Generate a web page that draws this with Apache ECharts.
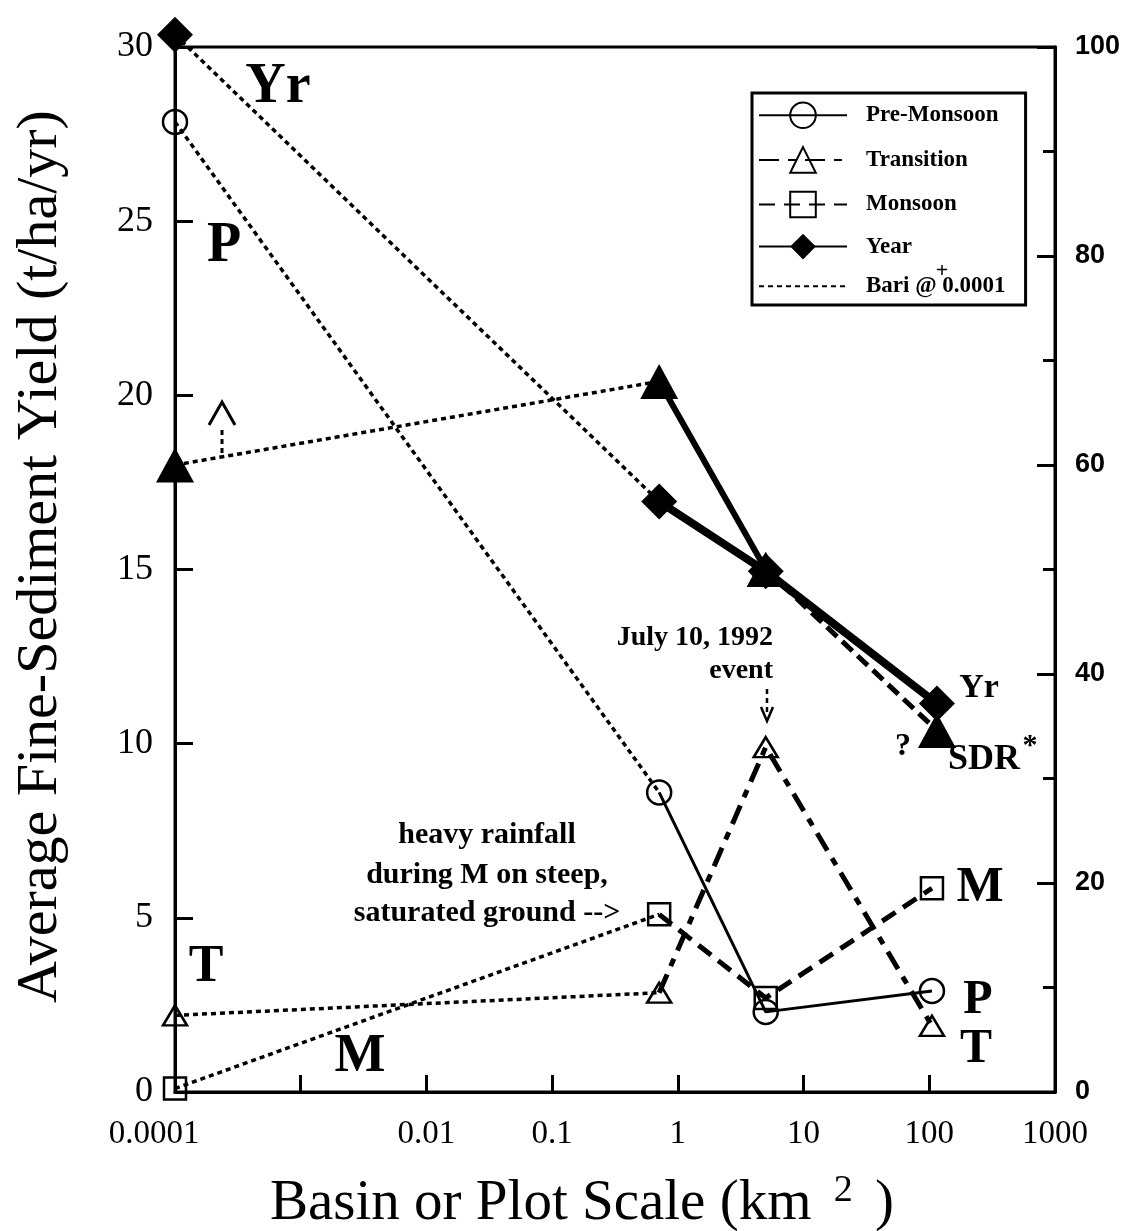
<!DOCTYPE html>
<html>
<head>
<meta charset="utf-8">
<script src="https://cdn.jsdelivr.net/npm/echarts@6/dist/echarts.min.js"></script>
<style>
  html, body { margin: 0; padding: 0; background: #fff; }
  #chart { width: 1138px; height: 1231px; }
</style>
</head>
<body>
<div id="chart"></div>
<script>
// Basin / plot areas (km²) for the seasonal series and for the annual / SDR series
const seasonScale = [0.0001, 0.71, 5, 105];
const annualScale = [0.0001, 0.71, 5, 115];

// Average fine-sediment yield (t/ha/yr)
const preMonsoon = [27.85, 8.6, 2.3, 2.9];
const transition = [2.2, 2.85, 9.9, 1.9];
const monsoon = [0.1, 5.1, 2.7, 5.85];
const yearTotal = [30.35, 16.95, 14.95, 11.15];

// Sediment delivery ratio (%), right-hand axis
const sdrPct = [60, 68, 50, 34.6];

// Tick labels for the decades 1e-4 … 1e3 (1e-3 left unlabelled)
const xTickLabels = ['0.0001', '', '0.01', '0.1', '1', '10', '100', '1000'];

const SERIF = "'Liberation Serif', 'Times New Roman', Times, serif";
const SANS = "'Liberation Sans', Arial, Helvetica, sans-serif";
const BARI = 'Bari @ 0.0001';
const dotted = { type: [5, 4], width: 3.5, color: '#000', cap: 'butt' };

function pairs(xs, ys, from, to) {
  const out = [];
  for (let i = from; i <= to; i++) out.push([xs[i], ys[i]]);
  return out;
}

const hollow = { color: 'none', borderColor: '#000', borderWidth: 2.5 };
const solid = { color: '#000' };

const marks = {
  pre: { symbol: 'circle', symbolSize: 24, itemStyle: hollow },
  tra: { symbol: 'triangle', symbolSize: [24, 20], itemStyle: hollow },
  mon: { symbol: 'rect', symbolSize: 22, itemStyle: hollow },
  yr: { symbol: 'diamond', symbolSize: 36, itemStyle: solid },
  sdr: { symbol: 'triangle', symbolSize: [38, 35], itemStyle: solid }
};

// Dotted link from the Bari plot value to the first basin value
function bariLink(xs, ys, mark, yAxisIndex) {
  return {
    type: 'line', name: BARI, yAxisIndex: yAxisIndex || 0, clip: false, z: 2,
    symbol: mark.symbol, symbolSize: mark.symbolSize, itemStyle: mark.itemStyle,
    lineStyle: dotted,
    data: [
      { value: [xs[0], ys[0]] },
      { value: [xs[1], ys[1]], symbol: 'none' }
    ]
  };
}

const series = [
  { type: 'line', name: BARI, data: [], symbol: 'none', lineStyle: dotted },
  bariLink(annualScale, yearTotal, marks.yr),
  bariLink(seasonScale, preMonsoon, marks.pre),
  bariLink(annualScale, sdrPct, marks.sdr, 1),
  bariLink(seasonScale, transition, marks.tra),
  bariLink(seasonScale, monsoon, marks.mon),
  {
    type: 'line', name: 'SDR*', yAxisIndex: 1, z: 3, clip: false,
    symbol: marks.sdr.symbol, symbolSize: marks.sdr.symbolSize, itemStyle: solid,
    lineStyle: { color: '#000', width: 6 },
    data: pairs(annualScale, sdrPct, 1, 2)
  },
  {
    type: 'line', name: 'SDR*', yAxisIndex: 1, z: 3, clip: false,
    symbol: marks.sdr.symbol, symbolSize: marks.sdr.symbolSize, itemStyle: solid,
    lineStyle: { color: '#000', width: 5, type: [14, 7] },
    data: pairs(annualScale, sdrPct, 2, 3)
  },
  {
    type: 'line', name: 'Pre-Monsoon', z: 4, clip: false,
    symbol: marks.pre.symbol, symbolSize: marks.pre.symbolSize, itemStyle: hollow,
    lineStyle: { color: '#000', width: 3 },
    data: pairs(seasonScale, preMonsoon, 1, 3)
  },
  {
    type: 'line', name: 'Transition', z: 4, clip: false,
    symbol: marks.tra.symbol, symbolSize: marks.tra.symbolSize, itemStyle: hollow,
    lineStyle: { color: '#000', width: 5, type: [20, 9, 8, 9] },
    data: pairs(seasonScale, transition, 1, 3)
  },
  {
    type: 'line', name: 'Monsoon', z: 4, clip: false,
    symbol: marks.mon.symbol, symbolSize: marks.mon.symbolSize, itemStyle: hollow,
    lineStyle: { color: '#000', width: 5, type: [16, 9] },
    data: pairs(seasonScale, monsoon, 1, 3)
  },
  {
    type: 'line', name: 'Year', z: 5, clip: false,
    symbol: marks.yr.symbol, symbolSize: marks.yr.symbolSize, itemStyle: solid,
    lineStyle: { color: '#000', width: 8 },
    data: pairs(annualScale, yearTotal, 1, 3)
  }
];

function label(text, x, y, size, opts) {
  opts = opts || {};
  return {
    type: 'text', x: x, y: y, z: 20,
    style: {
      text: text, fontSize: size, fontFamily: SERIF,
      fontWeight: opts.weight || 'bold', fill: '#000',
      align: opts.align || 'center', verticalAlign: 'middle'
    }
  };
}

const graphics = [
  label('Yr', 278, 88, 56),
  label('P', 224, 247, 56),
  label('T', 206, 968, 52),
  label('M', 360, 1057, 54),
  label('M', 980, 888, 50),
  label('P', 978, 1001, 48),
  label('T', 976, 1050, 48),
  label('Yr', 979, 688, 34),
  label('SDR', 948, 760, 36, { align: 'left' }),
  label('*', 1030, 746, 30),
  label('?', 903, 747, 32),
  label('July 10, 1992', 773, 638, 28, { align: 'right' }),
  label('event', 773, 671, 28, { align: 'right' }),
  label('heavy rainfall', 487, 835, 30),
  label('during M on steep,', 487, 875, 30),
  label('saturated ground -->', 487, 913, 30),
  label('+', 942, 271, 22),
  // upward arrow above the Bari SDR value
  { type: 'polyline', z: 20, shape: { points: [[209, 425], [222, 402], [235, 425]] },
    style: { stroke: '#000', lineWidth: 3, fill: null } },
  { type: 'line', z: 20, shape: { x1: 222, y1: 430, x2: 222, y2: 458 },
    style: { stroke: '#000', lineWidth: 3, lineDash: [5, 4] } },
  // downward arrow marking the July 10, 1992 event
  { type: 'line', z: 20, shape: { x1: 767, y1: 689, x2: 767, y2: 714 },
    style: { stroke: '#000', lineWidth: 2.5, lineDash: [5, 4] } },
  { type: 'polyline', z: 20, shape: { points: [[761, 707], [767, 721], [773, 707]] },
    style: { stroke: '#000', lineWidth: 2.5, fill: null } }
];

const chart = echarts.init(document.getElementById('chart'), null, { renderer: 'canvas' });
chart.setOption({
  animation: false,
  backgroundColor: '#fff',
  grid: {
    left: 175, right: 83, top: 47, bottom: 139,
    containLabel: false, outerBoundsMode: 'none',
    show: true, borderColor: '#000', borderWidth: 3, backgroundColor: 'transparent'
  },
  legend: {
    left: 752, top: 93, orient: 'vertical', selectedMode: false,
    itemWidth: 88, itemHeight: 32, itemGap: 14,
    padding: [7, 20, 6, 6],
    borderColor: '#000', borderWidth: 3, backgroundColor: '#fff',
    textStyle: { fontFamily: SERIF, fontSize: 23, fontWeight: 'bold', color: '#000', padding: [0, 0, 0, 14] },
    data: ['Pre-Monsoon', 'Transition', 'Monsoon', 'Year', { name: BARI, itemStyle: { opacity: 0 } }]
  },
  xAxis: {
    type: 'log', logBase: 10, min: 0.0001, max: 1000, interval: 1,
    axisLine: { lineStyle: { color: '#000', width: 3 } },
    axisTick: { inside: true, length: 17, lineStyle: { color: '#000', width: 3 } },
    splitLine: { show: false },
    axisLabel: {
      color: '#000', fontFamily: SERIF, fontSize: 33, margin: 26,
      formatter: function (v) {
        const i = Math.round(Math.log10(v)) + 4;
        const s = xTickLabels[i] || '';
        return i === 0 ? '{lead|' + s + '}' : s;
      },
      rich: { lead: { fontFamily: SERIF, fontSize: 33, color: '#000', padding: [0, 42, 0, 0] } }
    },
    name: '{t|Basin or Plot Scale (km }{sup|2}{t| )}',
    nameLocation: 'middle', nameGap: 80,
    nameTextStyle: {
      padding: [0, 66, 0, 0],
      rich: {
        t: { fontFamily: SERIF, fontSize: 57, color: '#000' },
        sup: { fontFamily: SERIF, fontSize: 38, color: '#000', padding: [0, 8, 26, 8] }
      }
    }
  },
  yAxis: [
    {
      type: 'value', min: 0, max: 30, interval: 5, position: 'left',
      axisLine: { show: true, lineStyle: { color: '#000', width: 3 } },
      axisTick: { show: true, inside: true, length: 18, lineStyle: { color: '#000', width: 3 } },
      splitLine: { show: false },
      axisLabel: { color: '#000', fontFamily: SERIF, fontSize: 36, margin: 22 },
      name: 'Average Fine-Sediment Yield (t/ha/yr)',
      nameLocation: 'middle', nameGap: 105, nameRotate: 90,
      nameTextStyle: { fontFamily: SERIF, fontSize: 58, color: '#000', padding: [0, 0, 0, 26] }
    },
    {
      type: 'value', min: 0, max: 100, interval: 20, position: 'right',
      axisLine: { show: true, lineStyle: { color: '#000', width: 3 } },
      axisTick: { show: true, inside: true, length: 18, lineStyle: { color: '#000', width: 3 } },
      minorTick: { show: true, splitNumber: 2, length: 12, lineStyle: { color: '#000', width: 3 } },
      splitLine: { show: false },
      axisLabel: { color: '#000', fontFamily: SANS, fontWeight: 'bold', fontSize: 27, margin: 20 }
    }
  ],
  series: series,
  graphic: graphics
});
</script>
</body>
</html>
